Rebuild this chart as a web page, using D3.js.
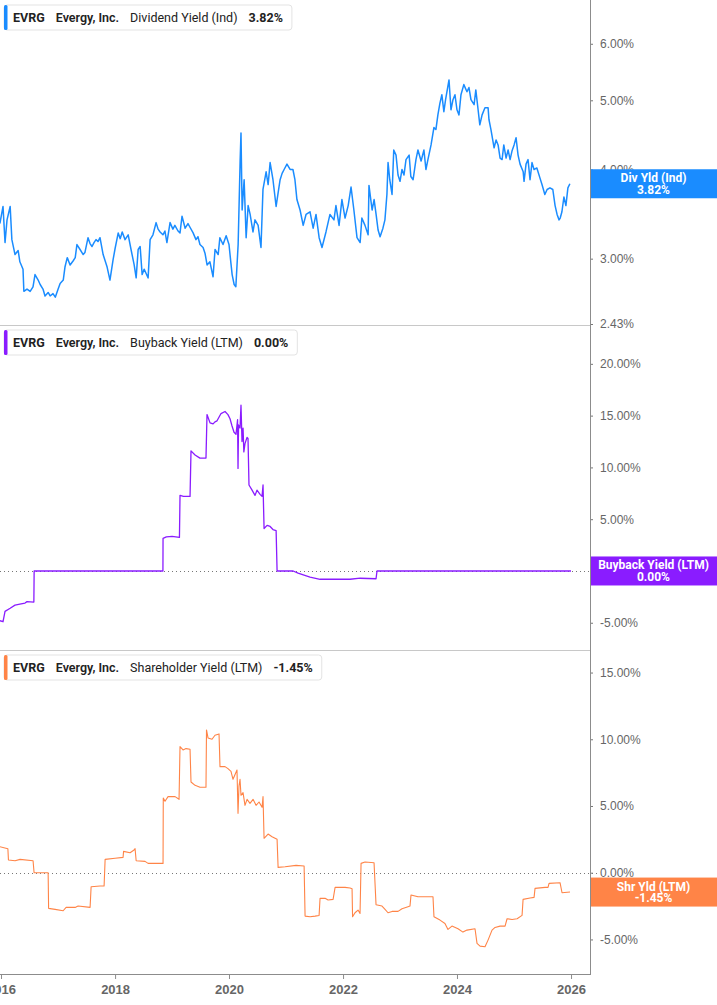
<!DOCTYPE html>
<html>
<head>
<meta charset="utf-8">
<script src="https://cdn.jsdelivr.net/npm/d3@7"></script>
<style>
  body { margin: 0; background: #fff; }
  svg { display: block; font-family: Roboto, "Liberation Sans", Arial, sans-serif; }
</style>
</head>
<body>
<div id="chart"></div>
<script>
// EVRG yields, dates are decimal years, values in percent
const ticker = "EVRG";
const company = "Evergy, Inc.";

const dividendYield = [
  [2015.98,3.36],[2016.035,3.55],[2016.07,3.16],[2016.105,3.40],[2016.16,3.55],[2016.19,3.19],[2016.245,3.04],[2016.30,3.08],
  [2016.33,2.97],[2016.385,2.90],[2016.40,2.70],[2016.455,2.72],[2016.51,2.70],[2016.56,2.74],[2016.595,2.85],[2016.65,2.80],
  [2016.685,2.76],[2016.735,2.72],[2016.77,2.66],[2016.825,2.69],[2016.86,2.66],[2016.91,2.68],[2016.95,2.65],[2017.00,2.72],
  [2017.035,2.77],[2017.09,2.80],[2017.12,2.92],[2017.16,3.01],[2017.21,2.94],[2017.265,2.98],[2017.30,3.01],[2017.33,3.14],
  [2017.385,3.09],[2017.44,3.04],[2017.47,3.06],[2017.525,3.21],[2017.56,3.15],[2017.595,3.12],[2017.63,3.16],[2017.665,3.19],
  [2017.70,3.17],[2017.735,3.21],[2017.79,3.04],[2017.825,2.98],[2017.86,2.92],[2017.91,2.80],[2017.965,2.99],[2018.00,3.10],
  [2018.055,3.26],[2018.09,3.20],[2018.125,3.27],[2018.175,3.19],[2018.23,3.24],[2018.28,3.09],[2018.335,2.94],[2018.37,2.82],
  [2018.405,3.09],[2018.44,3.12],[2018.475,2.85],[2018.51,2.90],[2018.545,2.86],[2018.58,2.82],[2018.615,3.19],[2018.665,3.24],
  [2018.72,3.37],[2018.755,3.30],[2018.79,3.27],[2018.84,3.24],[2018.875,3.28],[2018.91,3.16],[2018.965,3.37],[2019.015,3.30],
  [2019.05,3.34],[2019.105,3.28],[2019.14,3.26],[2019.175,3.44],[2019.23,3.31],[2019.28,3.36],[2019.315,3.32],[2019.37,3.26],
  [2019.42,3.19],[2019.455,3.22],[2019.49,3.14],[2019.545,3.11],[2019.58,3.05],[2019.615,2.94],[2019.665,2.97],[2019.72,2.83],
  [2019.755,3.09],[2019.81,3.04],[2019.84,3.21],[2019.895,3.14],[2019.95,3.23],[2020.00,3.14],[2020.035,2.95],[2020.055,2.85],
  [2020.09,2.76],[2020.12,2.74],[2020.16,3.14],[2020.195,4.11],[2020.21,4.50],[2020.23,3.51],[2020.265,3.87],[2020.30,3.21],
  [2020.335,3.56],[2020.37,3.46],[2020.42,3.27],[2020.455,3.40],[2020.51,3.34],[2020.56,3.11],[2020.595,3.75],[2020.65,3.97],
  [2020.685,3.81],[2020.72,4.09],[2020.77,3.87],[2020.825,3.55],[2020.86,3.71],[2020.895,3.87],[2020.93,3.95],[2020.965,4.00],
  [2021.015,4.07],[2021.07,4.00],[2021.12,4.00],[2021.155,3.87],[2021.19,3.63],[2021.245,3.51],[2021.30,3.34],[2021.35,3.46],
  [2021.42,3.49],[2021.475,3.31],[2021.525,3.46],[2021.58,3.21],[2021.63,3.11],[2021.70,3.27],[2021.77,3.46],[2021.84,3.40],
  [2021.875,3.56],[2021.93,3.34],[2021.98,3.63],[2022.035,3.42],[2022.09,3.56],[2022.14,3.78],[2022.19,3.51],[2022.245,3.21],
  [2022.30,3.16],[2022.33,3.42],[2022.385,3.34],[2022.44,3.24],[2022.455,3.80],[2022.51,3.51],[2022.545,3.63],[2022.58,3.46],
  [2022.615,3.29],[2022.65,3.22],[2022.70,3.31],[2022.735,3.40],[2022.77,3.69],[2022.79,4.09],[2022.82,3.87],[2022.86,3.69],
  [2022.89,4.26],[2022.93,4.19],[2022.965,3.93],[2023.00,3.85],[2023.035,4.00],[2023.07,3.93],[2023.105,4.13],[2023.16,4.19],
  [2023.19,3.91],[2023.23,3.87],[2023.28,4.13],[2023.315,4.26],[2023.37,4.11],[2023.42,4.26],[2023.455,4.00],[2023.49,4.13],
  [2023.545,4.33],[2023.595,4.58],[2023.63,4.55],[2023.665,4.77],[2023.70,4.95],[2023.735,5.09],[2023.77,4.82],[2023.80,5.01],
  [2023.86,5.34],[2023.895,4.85],[2023.93,5.01],[2023.965,5.09],[2024.00,4.85],[2024.035,4.77],[2024.07,5.09],[2024.12,5.26],
  [2024.175,5.14],[2024.21,5.21],[2024.245,5.01],[2024.30,4.93],[2024.33,5.17],[2024.37,4.85],[2024.40,4.62],[2024.44,4.77],
  [2024.49,4.88],[2024.545,4.88],[2024.56,4.70],[2024.595,4.55],[2024.65,4.29],[2024.685,4.40],[2024.72,4.33],[2024.755,4.15],
  [2024.79,4.13],[2024.82,4.33],[2024.86,4.15],[2024.895,4.26],[2024.93,4.13],[2024.965,4.25],[2025.00,4.33],[2025.035,4.43],
  [2025.07,4.19],[2025.105,4.07],[2025.16,3.97],[2025.175,3.85],[2025.21,4.07],[2025.245,4.13],[2025.28,3.87],[2025.315,4.09],
  [2025.35,4.00],[2025.40,4.02],[2025.455,3.89],[2025.49,3.81],[2025.54,3.69],[2025.58,3.75],[2025.63,3.77],[2025.68,3.75],
  [2025.72,3.56],[2025.755,3.46],[2025.79,3.40],[2025.81,3.42],[2025.84,3.49],[2025.875,3.66],[2025.91,3.56],[2025.945,3.77],
  [2025.98,3.82]
];

const buybackYield = [
  [2015.98,-4.8],[2016.035,-4.9],[2016.07,-3.9],[2016.16,-3.6],[2016.245,-3.3],[2016.33,-3.2],[2016.42,-3.1],[2016.455,-2.96],
  [2016.575,-3.0],[2016.58,0],[2018.84,0],[2018.842,3.15],[2018.9,3.3],[2019.0,3.35],[2019.13,3.25],[2019.14,7.3],
  [2019.2,7.2],[2019.316,7.2],[2019.333,11.6],[2019.404,11.2],[2019.49,10.9],[2019.596,10.9],[2019.614,15.1],[2019.667,14.3],
  [2019.72,14.2],[2019.754,14.4],[2019.79,14.5],[2019.86,15.2],[2019.93,15.4],[2019.982,15.1],[2020.018,14.7],[2020.053,14.0],
  [2020.088,13.4],[2020.123,13.2],[2020.15,14.6],[2020.158,9.9],[2020.167,14.1],[2020.175,14.0],[2020.193,13.8],[2020.21,16.0],
  [2020.228,12.5],[2020.246,13.8],[2020.26,11.5],[2020.28,12.3],[2020.316,12.9],[2020.333,12.8],[2020.35,8.3],[2020.404,7.8],
  [2020.456,7.3],[2020.49,7.8],[2020.544,7.4],[2020.579,7.2],[2020.596,8.3],[2020.614,4.1],[2020.667,4.4],[2020.72,4.3],
  [2020.77,4.0],[2020.825,3.9],[2020.842,0],[2021.123,0],[2021.21,-0.2],[2021.42,-0.6],[2021.596,-0.8],[2021.77,-0.8],
  [2022.123,-0.8],[2022.30,-0.7],[2022.579,-0.75],[2022.596,0],[2026.0,0]
];

const shareholderYield = [
  [2015.98,1.95],[2016.12,1.8],[2016.13,0.95],[2016.246,0.9],[2016.333,1.0],[2016.561,0.9],[2016.579,0],[2016.825,0],
  [2016.833,-2.67],[2016.947,-2.75],[2017.088,-2.85],[2017.14,-2.6],[2017.298,-2.6],[2017.351,-2.5],[2017.561,-2.6],[2017.579,-1.05],
  [2017.737,-1.0],[2017.807,-1.0],[2017.825,1.0],[2018.0,1.08],[2018.14,1.15],[2018.149,1.6],[2018.263,1.5],[2018.333,1.7],
  [2018.351,1.8],[2018.37,0.9],[2018.526,0.85],[2018.579,0.7],[2018.842,0.7],[2018.846,5.6],[2018.877,5.35],[2018.93,5.7],
  [2019.053,5.7],[2019.123,5.5],[2019.14,9.45],[2019.193,9.2],[2019.246,9.3],[2019.316,9.25],[2019.333,6.8],[2019.404,6.55],
  [2019.491,6.4],[2019.596,6.4],[2019.605,10.7],[2019.632,10.1],[2019.702,10.0],[2019.754,10.3],[2019.825,10.4],[2019.842,7.95],
  [2019.93,7.95],[2019.982,7.8],[2020.035,7.6],[2020.07,7.0],[2020.14,7.7],[2020.158,4.45],[2020.175,6.5],[2020.193,7.0],
  [2020.21,5.8],[2020.246,6.0],[2020.28,5.05],[2020.316,5.5],[2020.368,5.2],[2020.421,5.5],[2020.474,5.05],[2020.526,5.3],
  [2020.579,4.9],[2020.596,5.7],[2020.614,2.58],[2020.684,2.9],[2020.754,2.7],[2020.842,2.5],[2020.86,0.4],[2020.982,0.45],
  [2021.175,0.55],[2021.316,0.5],[2021.333,-3.25],[2021.421,-3.3],[2021.509,-3.25],[2021.579,-3.2],[2021.596,-1.92],[2021.684,-1.92],
  [2021.737,-2.05],[2021.825,-2.0],[2021.86,-1.1],[2022.035,-1.1],[2022.123,-1.15],[2022.158,-1.2],[2022.167,-3.3],[2022.21,-3.0],
  [2022.263,-2.8],[2022.298,-3.05],[2022.316,0.7],[2022.386,0.8],[2022.544,0.75],[2022.579,-2.4],[2022.684,-2.5],[2022.737,-2.75],
  [2022.789,-3.0],[2022.86,-2.9],[2022.965,-2.9],[2023.035,-2.7],[2023.14,-2.55],[2023.175,-2.5],[2023.193,-1.67],[2023.316,-1.8],
  [2023.579,-1.8],[2023.596,-3.3],[2023.702,-3.55],[2023.789,-3.8],[2023.842,-4.25],[2023.912,-4.0],[2024.018,-4.2],[2024.105,-4.45],
  [2024.175,-4.3],[2024.316,-4.2],[2024.351,-5.3],[2024.404,-5.5],[2024.491,-5.55],[2024.544,-5.05],[2024.614,-4.3],[2024.667,-4.1],
  [2024.754,-4.0],[2024.842,-4.0],[2024.877,-3.45],[2024.965,-3.5],[2025.053,-3.45],[2025.14,-3.2],[2025.158,-2.0],[2025.281,-1.9],
  [2025.351,-1.85],[2025.368,-1.17],[2025.544,-1.1],[2025.596,-1.1],[2025.614,-0.8],[2025.807,-0.75],[2025.842,-1.5],[2025.982,-1.45]
];

const divTicks = [2.43, 3, 4, 5, 6];
const buyTicks = [-5, 0, 5, 10, 15, 20];
const shrTicks = [-5, 0, 5, 10, 15];
const yearTicks = [2016, 2018, 2020, 2022, 2024, 2026];

const width = 717, height = 1005, plotRight = 590;

function toDate(t) {
  const yr = Math.floor(t);
  const a = Date.UTC(yr, 0, 1), b = Date.UTC(yr + 1, 0, 1);
  return new Date(a + (t - yr) * (b - a));
}

const x = d3.scaleUtc()
  .domain([toDate(2015.982), toDate(2026.333)])
  .range([0, plotRight]);

const panels = [
  {
    top: 0, bottom: 324,
    y: d3.scaleLog().domain([2.43, 6.91]).range([324, 0]),
    data: dividendYield, ticks: divTicks, color: "#1a8cff", lw: 1.5,
    metric: "Dividend Yield (Ind)", tag: "Div Yld (Ind)", zero: false
  },
  {
    top: 325, bottom: 650,
    y: d3.scaleLinear().domain([-7.63, 23.75]).range([650, 325]),
    data: buybackYield, ticks: buyTicks, color: "#8a1cff", lw: 1.3,
    metric: "Buyback Yield (LTM)", tag: "Buyback Yield (LTM)", zero: true
  },
  {
    top: 650, bottom: 974,
    y: d3.scaleLinear().domain([-7.59, 16.69]).range([974, 650]),
    data: shareholderYield, ticks: shrTicks, color: "#ff8447", lw: 1.1,
    metric: "Shareholder Yield (LTM)", tag: "Shr Yld (LTM)", zero: true
  }
];

const svg = d3.select("#chart").append("svg")
  .attr("width", width)
  .attr("height", height);

svg.append("rect").attr("width", width).attr("height", height).attr("fill", "#fff");

const fmt = v => v.toFixed(2) + "%";

panels.forEach((p, i) => {
  const clipId = "clip" + i;
  svg.append("clipPath").attr("id", clipId)
    .append("rect")
    .attr("x", 0).attr("y", p.top)
    .attr("width", plotRight).attr("height", p.bottom - p.top);

  // panel separator
  if (p.top > 0) {
    svg.append("line")
      .attr("x1", 0).attr("x2", plotRight)
      .attr("y1", p.top + 0.5).attr("y2", p.top + 0.5)
      .attr("stroke", "#c8c8c8");
  }

  if (p.zero) {
    svg.append("line")
      .attr("x1", 0).attr("x2", plotRight + 10)
      .attr("y1", Math.round(p.y(0)) + 0.5).attr("y2", Math.round(p.y(0)) + 0.5)
      .attr("stroke", "#777")
      .attr("stroke-dasharray", "1,3");
  }

  const line = d3.line()
    .x(d => x(toDate(d[0])))
    .y(d => p.y(d[1]));

  svg.append("path")
    .datum(p.data)
    .attr("clip-path", `url(#${clipId})`)
    .attr("fill", "none")
    .attr("stroke", p.color)
    .attr("stroke-width", p.lw)
    .attr("stroke-linejoin", "round")
    .attr("d", line);

  // right axis
  const ax = svg.append("g")
    .attr("transform", `translate(${plotRight},0)`)
    .call(d3.axisRight(p.y).tickValues(p.ticks).tickSize(3).tickPadding(7).tickFormat(fmt));
  ax.select(".domain").remove();
  ax.selectAll(".tick line").attr("stroke", "#777");
  ax.selectAll(".tick text")
    .attr("fill", "#666")
    .style("font-size", "12px");

  // legend box
  const last = p.data[p.data.length - 1][1];
  const lg = svg.append("g").attr("transform", `translate(4,${p.top + 5})`);
  const box = lg.append("rect")
    .attr("y", 0).attr("height", 25).attr("rx", 3)
    .attr("fill", "#fff").attr("stroke", "#e3e3e3");
  lg.append("rect")
    .attr("x", 0).attr("y", 0).attr("width", 3.5).attr("height", 25).attr("rx", 1.5)
    .attr("fill", p.color);
  const items = [
    { t: ticker, w: 700 },
    { t: company, w: 600 },
    { t: p.metric, w: 400 },
    { t: fmt(last), w: 700 }
  ];
  let cx = 9;
  items.forEach(it => {
    const tx = lg.append("text")
      .attr("x", cx).attr("y", 17)
      .attr("fill", "#222")
      .style("font-size", "12.5px")
      .style("font-weight", it.w)
      .text(it.t);
    cx += tx.node().getComputedTextLength() + 11;
  });
  box.attr("x", 0).attr("width", cx - 2);

  // value tag on axis
  const yc = p.y(last);
  svg.append("rect")
    .attr("x", plotRight).attr("y", yc - 14.5)
    .attr("width", width - plotRight).attr("height", 29)
    .attr("fill", p.color);
  const tagX = plotRight + (width - plotRight) / 2;
  svg.append("text")
    .attr("x", tagX).attr("y", yc - 1.5)
    .attr("text-anchor", "middle")
    .attr("fill", "#fff")
    .style("font-size", "12px").style("font-weight", 700)
    .text(p.tag);
  svg.append("text")
    .attr("x", tagX).attr("y", yc + 10)
    .attr("text-anchor", "middle")
    .attr("fill", "#fff")
    .style("font-size", "12px").style("font-weight", 700)
    .text(fmt(last));
});

// vertical axis line
svg.append("line")
  .attr("x1", plotRight + 0.5).attr("x2", plotRight + 0.5)
  .attr("y1", 0).attr("y2", 975)
  .attr("stroke", "#8c8c8c");

// bottom time axis
const xa = svg.append("g")
  .attr("transform", "translate(0,974)")
  .call(d3.axisBottom(x)
    .tickValues(yearTicks.map(yr => toDate(yr)))
    .tickSize(5).tickPadding(6)
    .tickFormat(d3.utcFormat("%Y")));
xa.select(".domain").attr("stroke", "#8c8c8c").attr("d", `M0,0.5H${plotRight}`);
xa.selectAll(".tick line").attr("stroke", "#8c8c8c");
xa.selectAll(".tick text")
  .attr("fill", "#666")
  .style("font-size", "13px")
  .style("font-weight", 700);
</script>
</body>
</html>
